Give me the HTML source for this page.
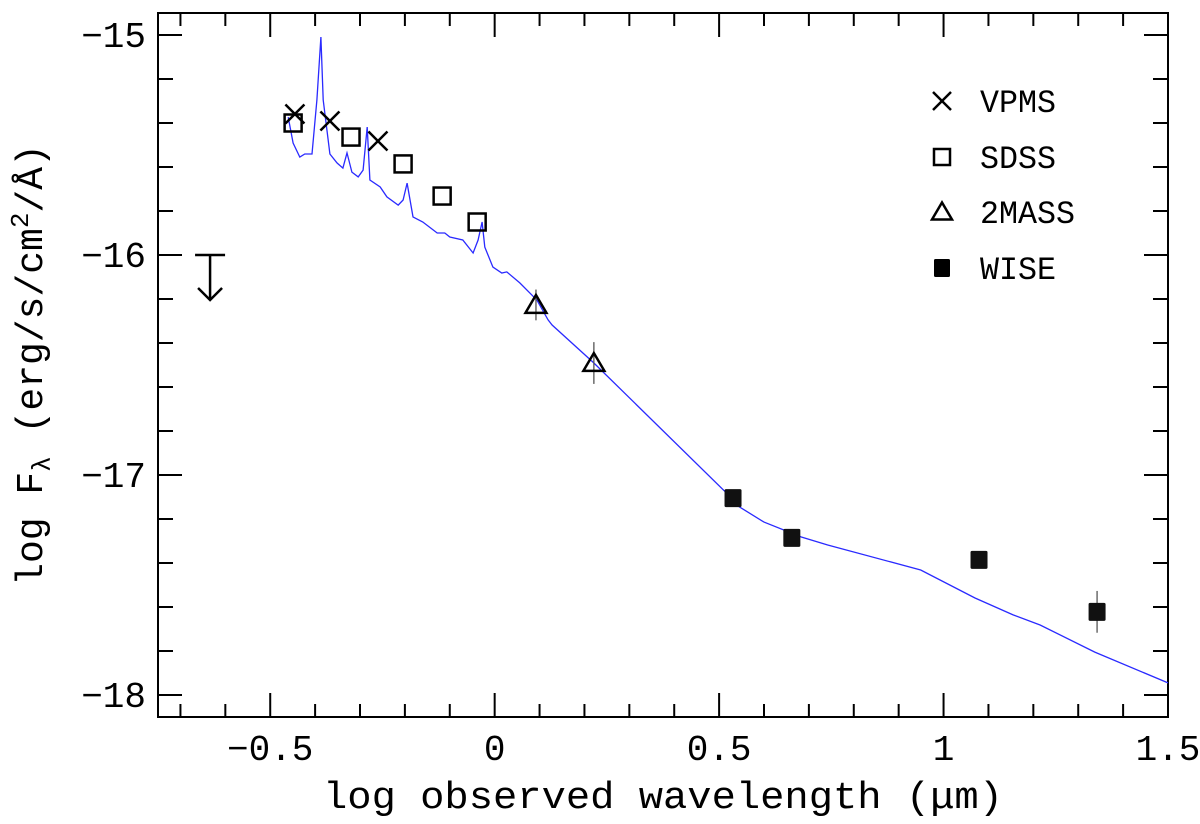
<!DOCTYPE html>
<html><head><meta charset="utf-8"><style>
html,body{margin:0;padding:0;background:#fff;}
svg{display:block;}
text{font-family:"Liberation Mono","DejaVu Sans Mono",monospace;fill:#000;}
</style></head><body>
<svg id="chart" width="1200" height="824" viewBox="0 0 1200 824" xmlns="http://www.w3.org/2000/svg"></svg>
<script>
// ---- data ----
const modelX = [-0.460,-0.449,-0.434,-0.423,-0.407,-0.396,-0.387,-0.382,-0.367,-0.351,-0.338,-0.329,-0.318,-0.304,-0.293,-0.284,-0.278,-0.255,-0.240,-0.215,-0.204,-0.195,-0.182,-0.160,-0.128,-0.111,-0.100,-0.071,-0.048,-0.037,-0.028,-0.022,-0.004,0.016,0.027,0.056,0.094,0.119,0.128,0.221,0.514,0.538,0.600,0.683,0.742,0.949,1.070,1.155,1.215,1.337,1.5];
const modelY = [-15.373,-15.491,-15.555,-15.541,-15.541,-15.295,-15.009,-15.295,-15.541,-15.582,-15.605,-15.536,-15.623,-15.645,-15.614,-15.418,-15.659,-15.691,-15.736,-15.773,-15.750,-15.673,-15.827,-15.850,-15.900,-15.900,-15.918,-15.932,-15.991,-15.932,-15.850,-15.964,-16.055,-16.082,-16.077,-16.127,-16.205,-16.295,-16.318,-16.491,-17.077,-17.136,-17.214,-17.282,-17.318,-17.432,-17.559,-17.636,-17.682,-17.805,-17.945];
const vpmsX = [-0.445,-0.367,-0.260];
const vpmsY = [-15.359,-15.391,-15.482];
const sdssX = [-0.449,-0.320,-0.204,-0.117,-0.039];
const sdssY = [-15.400,-15.464,-15.586,-15.732,-15.850];
const tmassX = [0.092,0.221];
const tmassY = [-16.227,-16.491];
const tmassErr = [0.07,0.095];
const wiseX = [0.531,0.662,1.079,1.342];
const wiseY = [-17.105,-17.286,-17.386,-17.622];
const wiseErr = [0.02,0.02,0.02,0.095];
const limitX = [-0.634];
const limitY = [-16.0];
const xTicks = [-0.5,0,0.5,1,1.5];
const xTickLabels = ["\u22120.5","0","0.5","1","1.5"];
const yTicks = [-15,-16,-17,-18];
const yTickLabels = ["\u221215","\u221216","\u221217","\u221218"];
const legendLabels = ["VPMS","SDSS","2MASS","WISE"];

// ---- axes ----
const L=158,R=1168,T=13,B=717;
const X0=-0.75,X1=1.5,Y0=-18.1,Y1=-14.9;
function sx(v){return L+(v-X0)/(X1-X0)*(R-L);}
function sy(v){return B-(v-Y0)/(Y1-Y0)*(B-T);}
const NS="http://www.w3.org/2000/svg";
const svg=document.getElementById('chart');
function mk(tag,attrs,parent){const e=document.createElementNS(NS,tag);for(const k in attrs)e.setAttribute(k,attrs[k]);(parent||svg).appendChild(e);return e;}

const frame=mk('rect',{x:L,y:T,width:R-L,height:B-T,fill:'none',stroke:'#000','stroke-width':2});



const tg=mk('g',{stroke:'#000','stroke-width':2});


for(let i=-7;i<=15;i++){const v=i/10;if(v<X0-1e-9||v>X1+1e-9)continue;const px=sx(v);const major=Math.abs(v*2-Math.round(v*2))<1e-9;const len=major?24:13;
 mk('line',{x1:px,y1:B,x2:px,y2:B-len},tg);mk('line',{x1:px,y1:T,x2:px,y2:T+len},tg);}
for(let i=-90;i<=-75;i++){const v=i/5;if(v<Y0-1e-9||v>Y1+1e-9)continue;const py=sy(v);const major=Math.abs(v-Math.round(v))<1e-9;const len=major?24:15;
 mk('line',{x1:L,y1:py,x2:L+len,y2:py},tg);mk('line',{x1:R,y1:py,x2:R-len,y2:py},tg);}

xTicks.forEach((v,i)=>{const t=mk('text',{x:sx(v),y:760,'text-anchor':'middle','font-size':36});t.textContent=xTickLabels[i];
 
 });
yTicks.forEach((v,i)=>{const t=mk('text',{x:146,y:sy(v)+12,'text-anchor':'end','font-size':36});t.textContent=yTickLabels[i];
 
 });

const xt=mk('text',{x:663,y:808,'text-anchor':'middle','font-size':38,textLength:680,lengthAdjust:'spacingAndGlyphs'});
xt.textContent="log observed wavelength (\u03bcm)";


const yt=mk('text',{x:0,y:0,'text-anchor':'middle','font-size':38,transform:'translate(42,365) rotate(-90)'});
yt.innerHTML='log F<tspan font-size="26" dy="8">\u03bb</tspan><tspan dy="-8"> (erg/s/cm</tspan><tspan font-size="26" dy="-14">2</tspan><tspan dy="14">/\u00c5)</tspan>';



let d='';modelX.forEach((v,i)=>{d+=(i?'L':'M')+sx(v).toFixed(1)+','+sy(modelY[i]).toFixed(1);});
const curve=mk('path',{d:d,fill:'none',stroke:'#2a2aff','stroke-width':1.3});



function cross(cx,cy,s,g){mk('line',{x1:cx-s,y1:cy-s,x2:cx+s,y2:cy+s},g);mk('line',{x1:cx-s,y1:cy+s,x2:cx+s,y2:cy-s},g);}
function square(cx,cy,s,g){mk('rect',{x:cx-s,y:cy-s,width:2*s,height:2*s,fill:'none'},g);}
function tri(cx,cy,s,g){mk('polygon',{points:`${cx-s},${cy+s*0.75} ${cx+s},${cy+s*0.75} ${cx},${cy-s*0.95}`,fill:'none'},g);}

const eg=mk('g',{stroke:'#555','stroke-width':1.3});


tmassX.forEach((v,i)=>mk('line',{x1:sx(v),x2:sx(v),y1:sy(tmassY[i]+tmassErr[i]),y2:sy(tmassY[i]-tmassErr[i])},eg));
wiseX.forEach((v,i)=>mk('line',{x1:sx(v),x2:sx(v),y1:sy(wiseY[i]+wiseErr[i]),y2:sy(wiseY[i]-wiseErr[i])},eg));

const vg=mk('g',{stroke:'#000','stroke-width':2.5,fill:'none'});


vpmsX.forEach((v,i)=>cross(sx(v),sy(vpmsY[i]),9.5,vg));
const sg=mk('g',{stroke:'#000','stroke-width':2.5,fill:'none'});


sdssX.forEach((v,i)=>square(sx(v),sy(sdssY[i]),8.5,sg));
const mg=mk('g',{stroke:'#000','stroke-width':2.5,fill:'none'});


tmassX.forEach((v,i)=>tri(sx(v),sy(tmassY[i]),10.5,mg));
const wg=mk('g',{fill:'#111'});


wiseX.forEach((v,i)=>mk('rect',{x:sx(v)-8.5,y:sy(wiseY[i])-9,width:17,height:18,rx:1.5},wg));

const lg=mk('g',{stroke:'#000','stroke-width':2.5,fill:'none'});


limitX.forEach((v,i)=>{const px=sx(v),py=sy(limitY[i]);
 mk('line',{x1:px-15,y1:py,x2:px+15,y2:py},lg);
 mk('line',{x1:px,y1:py,x2:px,y2:py+45},lg);
 mk('polyline',{points:`${px-12},${py+33} ${px},${py+45} ${px+12},${py+33}`},lg);});

const leg=mk('g',{});


const ly=[101,157,212,268];
legendLabels.forEach((lab,i)=>{
 const e=mk('g',{stroke:'#000','stroke-width':2.5,fill:'none'},leg);
 
 
 const cx=942,cy=ly[i];
 if(i===0)cross(cx,cy,9,e);
 else if(i===1)square(cx,cy,8,e);
 else if(i===2)tri(cx,cy,10,e);
 else mk('rect',{x:cx-8,y:cy-9,width:16,height:18,fill:'#000',stroke:'none',rx:1.5},e);
 const t=mk('text',{x:980,y:cy+11,'font-size':32,textLength:lab.length*19,lengthAdjust:'spacingAndGlyphs'},leg);
 t.textContent=lab;
 
 
});
</script>
</body></html>
